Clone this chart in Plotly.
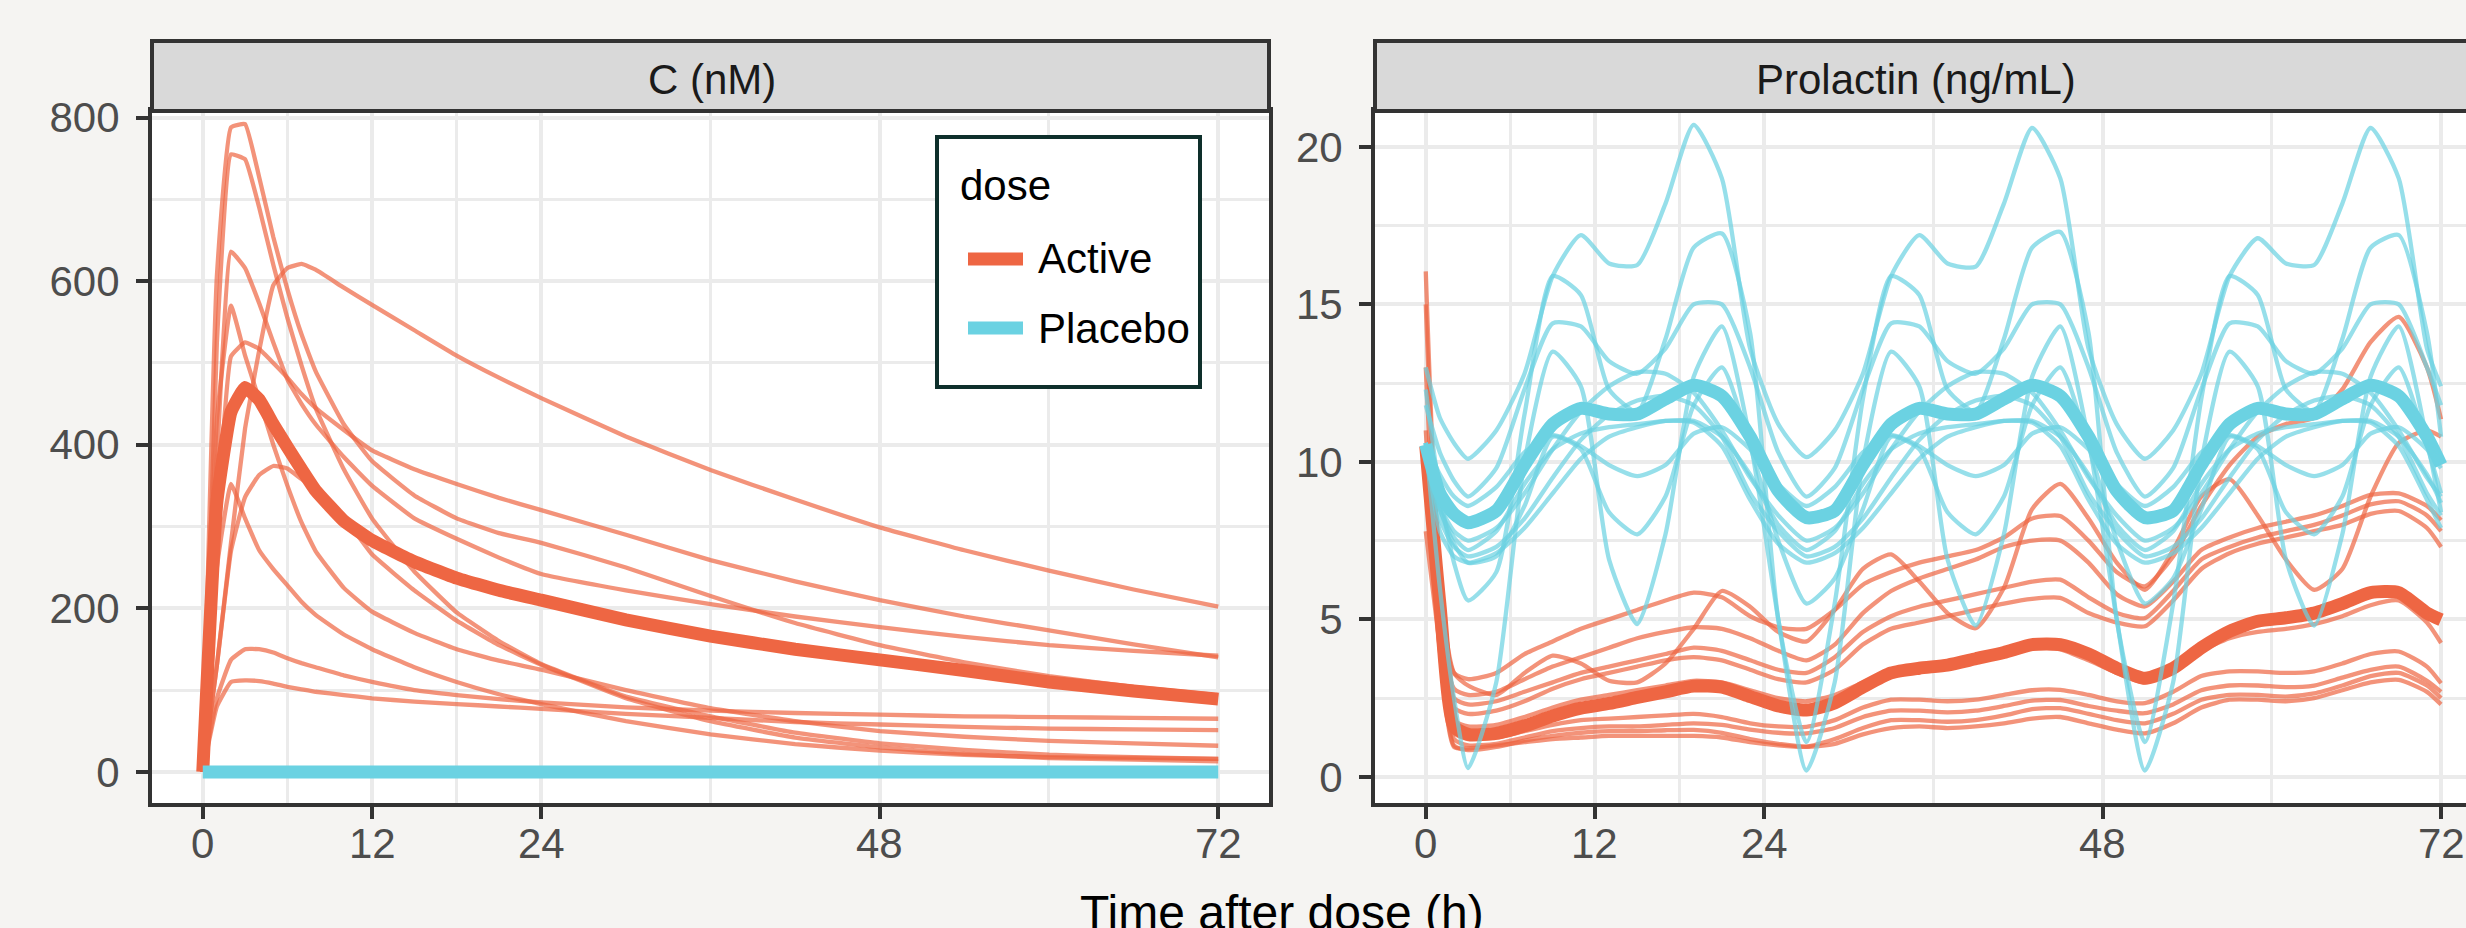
import plotly.graph_objects as go

# ---------------- data ----------------
# Concentration panel: time grid (h)
TC = [0, 1, 2, 3, 4, 5, 6, 7, 8, 10, 12, 15, 18, 21, 24, 30, 36, 42, 48, 54, 60, 66, 72]
# Active individuals, C (nM)
c_a1 = [0, 130, 280, 420, 515, 595, 616, 621, 614, 592, 571, 540, 509, 482, 457, 410, 369, 333, 299, 271, 246, 223, 202]
c_a2 = [0, 300, 508, 525, 517, 500, 482, 462, 445, 418, 393, 370, 352, 335, 320, 290, 259, 233, 210, 190, 173, 156, 140]
c_a3 = [0, 380, 636, 616, 573, 525, 480, 450, 425, 385, 350, 310, 285, 262, 242, 222, 205, 190, 177, 165, 155, 148, 142]
c_a4 = [0, 606, 788, 792, 727, 654, 590, 535, 490, 425, 380, 338, 310, 292, 280, 250, 215, 182, 155, 134, 117, 104, 94]
c_a5 = [0, 525, 755, 749, 690, 620, 555, 497, 445, 370, 310, 245, 195, 160, 132, 92, 68, 48, 35, 27, 21, 18, 16]
c_a6 = [0, 430, 570, 509, 455, 400, 350, 305, 270, 225, 196, 170, 150, 136, 125, 100, 78, 62, 50, 43, 38, 35, 32]
c_a7 = [0, 130, 270, 336, 363, 374, 371, 358, 346, 312, 266, 222, 185, 155, 131, 90, 62, 42, 30, 22, 17, 15, 13]
c_a8 = [0, 250, 352, 310, 271, 248, 228, 208, 192, 168, 150, 128, 110, 95, 83, 62, 46, 34, 26, 21, 18, 17, 16]
c_a9 = [0, 90, 137, 150, 150, 146, 139, 133, 128, 118, 110, 100, 94, 89, 85, 79, 75, 72, 70, 68, 67, 66, 65]
c_a10 = [0, 80, 110, 112, 111, 108, 104, 101, 98, 94, 90, 86, 83, 80, 77, 71, 66, 61, 58, 55, 53, 52, 51]
# Typical (thick) lines, C
c_active_typ = [0, 330, 440, 470, 455, 425, 397, 370, 344, 307, 283, 257, 237, 222, 210, 186, 166, 150, 137, 124, 110, 99, 89]
c_placebo_typ = [0, 0, 0, 0, 0, 0, 0, 0, 0, 0, 0, 0, 0, 0, 0, 0, 0, 0, 0, 0, 0, 0, 0]

# Prolactin panel: time grid (h)
TP = [0, 1, 2, 3, 5, 7, 9, 11, 13, 15, 17, 19, 21, 23,
      25, 27, 29, 31, 33, 35, 37, 39, 41, 43, 45, 47,
      49, 51, 53, 55, 57, 59, 61, 63, 65, 67, 69, 71, 72]
# Active individuals, prolactin (ng/mL)
p_a1 = [16.05, 6.0, 3.3, 2.9, 2.6, 3.3, 3.85, 3.6, 3.05, 3.0, 3.6, 4.7, 5.9, 5.4,
        4.6, 4.3, 5.3, 6.6, 7.06, 6.2, 5.2, 4.72, 6.0, 8.5, 9.3, 8.2,
        6.8, 5.94, 7.2, 8.9, 9.45, 8.3, 6.9, 5.94, 6.6, 8.9, 10.6, 11.0, 10.8]
p_a2 = [15.0, 5.8, 3.3, 3.1, 3.3, 3.9, 4.3, 4.7, 5.0, 5.3, 5.6, 5.85, 5.7, 5.1,
        4.75, 4.7, 5.3, 6.1, 6.5, 6.8, 7.0, 7.2, 7.6, 8.2, 8.28, 7.5,
        6.5, 6.05, 7.0, 8.6, 9.9, 10.8, 11.2, 11.4, 12.3, 13.8, 14.6, 13.0, 11.35]
p_a3 = [13.0, 5.2, 2.8, 2.6, 2.7, 3.1, 3.5, 3.8, 4.1, 4.4, 4.6, 4.75, 4.7, 4.4,
        4.0, 3.7, 4.2, 5.2, 5.9, 6.3, 6.6, 6.9, 7.3, 7.5, 7.5, 6.8,
        5.8, 5.41, 6.2, 7.2, 7.6, 7.9, 8.1, 8.3, 8.6, 8.95, 9.0, 8.6, 8.15]
p_a4 = [11.0, 5.0, 2.5, 2.3, 2.4, 2.7, 3.0, 3.3, 3.5, 3.7, 3.9, 4.1, 4.0, 3.7,
        3.4, 3.3, 3.8, 4.6, 5.1, 5.4, 5.6, 5.8, 6.0, 6.2, 6.26, 5.7,
        5.2, 5.04, 5.9, 6.9, 7.3, 7.6, 7.8, 8.0, 8.3, 8.65, 8.75, 8.3, 7.8]
p_a5 = [10.5, 4.9, 2.2, 2.0, 2.1, 2.4, 2.8, 3.1, 3.3, 3.5, 3.7, 3.8, 3.7, 3.4,
        3.1, 3.0, 3.4, 4.2, 4.7, 4.9, 5.1, 5.3, 5.5, 5.65, 5.68, 5.2,
        4.9, 4.78, 5.6, 6.6, 7.1, 7.4, 7.6, 7.8, 8.0, 8.35, 8.44, 7.9, 7.3]
p_a6 = [10.5, 4.7, 1.8, 1.6, 1.65, 1.9, 2.2, 2.45, 2.6, 2.75, 2.9, 3.05, 3.0, 2.75,
        2.5, 2.4, 2.6, 3.0, 3.35, 3.5, 3.6, 3.8, 3.95, 4.1, 4.05, 3.7,
        3.3, 3.0, 3.4, 4.0, 4.4, 4.6, 4.7, 4.85, 5.1, 5.45, 5.6, 4.9, 4.25]
p_a7 = [10.5, 4.5, 1.4, 1.2, 1.25, 1.45, 1.65, 1.8, 1.85, 1.9, 1.95, 2.0, 1.9, 1.7,
        1.6, 1.59, 1.8, 2.2, 2.45, 2.45, 2.4, 2.45, 2.6, 2.75, 2.76, 2.6,
        2.4, 2.34, 2.7, 3.2, 3.35, 3.35, 3.3, 3.35, 3.6, 3.9, 3.98, 3.5, 2.97]
p_a8 = [10.2, 4.3, 1.2, 1.0, 1.05, 1.25, 1.45, 1.55, 1.6, 1.6, 1.65, 1.7, 1.65, 1.5,
        1.4, 1.38, 1.55, 1.9, 2.1, 2.1, 2.05, 2.1, 2.25, 2.42, 2.44, 2.25,
        2.1, 2.02, 2.3, 2.75, 2.9, 2.9, 2.85, 2.9, 3.15, 3.4, 3.5, 3.05, 2.7]
p_a9 = [7.8, 4.1, 1.0, 0.85, 0.95, 1.15, 1.3, 1.4, 1.45, 1.45, 1.48, 1.49, 1.4, 1.2,
        1.05, 0.96, 1.2, 1.55, 1.8, 1.8, 1.75, 1.8, 1.95, 2.15, 2.18, 2.0,
        1.8, 1.7, 2.0, 2.45, 2.6, 2.6, 2.55, 2.65, 2.9, 3.2, 3.3, 2.9, 2.5]
p_a10 = [10.5, 4.0, 0.95, 0.9, 1.0, 1.1, 1.2, 1.25, 1.3, 1.3, 1.3, 1.3, 1.25, 1.1,
         1.0, 0.95, 1.05, 1.35, 1.55, 1.6, 1.55, 1.6, 1.7, 1.85, 1.9, 1.7,
         1.5, 1.38, 1.7, 2.2, 2.45, 2.45, 2.4, 2.5, 2.75, 3.0, 3.08, 2.7, 2.3]
# Placebo individuals, prolactin (ng/mL)
p_p1 = [13.0, 11.4, 10.6, 10.1, 11.0, 12.8, 15.9, 17.2, 16.3, 16.25, 18.2, 20.7, 19.0, 13.6,
        11.2, 10.15, 11.0, 12.8, 15.9, 17.2, 16.3, 16.2, 18.2, 20.6, 19.0, 13.6,
        11.2, 10.1, 11.0, 12.8, 15.9, 17.1, 16.3, 16.25, 18.2, 20.6, 19.0, 13.6, 12.4]
p_p2 = [12.3, 9.0, 6.8, 5.6, 6.5, 11.5, 15.9, 15.3, 12.3, 11.6, 13.9, 16.8, 17.25, 14.1,
        5.0, 1.1, 5.5, 12.0, 15.9, 15.3, 12.3, 11.6, 13.9, 16.8, 17.3, 14.1,
        5.0, 1.1, 5.5, 12.0, 15.9, 15.3, 12.3, 11.6, 13.9, 16.8, 17.2, 14.1, 10.8]
p_p3 = [11.8, 10.3, 9.4, 8.9, 9.8, 12.3, 14.4, 14.3, 13.2, 12.8, 13.6, 15.0, 15.0, 13.0,
        10.3, 8.9, 9.8, 12.3, 14.4, 14.3, 13.2, 12.8, 13.6, 15.0, 15.0, 13.0,
        10.3, 8.9, 9.8, 12.3, 14.4, 14.3, 13.2, 12.8, 13.6, 15.0, 15.0, 13.0, 11.8]
p_p4 = [10.6, 6.0, 2.5, 0.28, 3.0, 10.0, 13.5, 12.4, 6.9, 4.85, 7.7, 12.7, 14.3, 10.7,
        5.0, 0.2, 3.0, 10.0, 13.5, 12.4, 6.9, 4.8, 7.7, 12.7, 14.3, 10.7,
        5.0, 0.2, 3.0, 10.0, 13.5, 12.4, 6.9, 4.8, 7.7, 12.7, 14.3, 10.7, 8.4]
p_p5 = [10.6, 8.5, 7.4, 6.8, 7.0, 8.6, 10.8, 10.4, 8.4, 7.7, 8.9, 11.8, 13.0, 10.5,
        7.5, 5.5, 6.3, 8.5, 10.8, 10.4, 8.4, 7.7, 8.9, 11.8, 13.0, 10.5,
        7.5, 5.5, 6.3, 8.5, 10.8, 10.4, 8.4, 7.7, 8.9, 11.8, 13.0, 10.5, 9.0]
p_p6 = [10.6, 9.6, 8.9, 8.6, 9.2, 10.3, 10.85, 10.5, 9.9, 9.55, 9.9, 10.9, 11.1, 10.4,
        9.3, 8.6, 9.2, 10.3, 10.85, 10.5, 9.9, 9.55, 9.9, 10.9, 11.1, 10.4,
        9.3, 8.6, 9.2, 10.3, 10.85, 10.5, 9.9, 9.55, 9.9, 10.9, 11.1, 10.4, 9.8]
p_p7 = [10.6, 8.6, 7.8, 7.5, 7.9, 9.0, 10.4, 11.6, 12.4, 12.85, 12.8, 12.2, 11.0, 9.5,
        8.3, 7.5, 7.9, 9.0, 10.4, 11.6, 12.4, 12.85, 12.8, 12.2, 11.0, 9.5,
        8.3, 7.5, 7.9, 9.0, 10.4, 11.6, 12.4, 12.85, 12.8, 12.2, 11.0, 9.5, 8.9]
p_p8 = [10.6, 8.2, 7.3, 7.0, 7.3, 8.2, 9.5, 10.7, 11.5, 11.95, 12.1, 11.8, 10.8, 9.0,
        7.8, 7.0, 7.3, 8.2, 9.5, 10.7, 11.5, 11.95, 12.1, 11.8, 10.8, 9.0,
        7.8, 7.0, 7.3, 8.2, 9.5, 10.7, 11.5, 11.95, 12.1, 11.8, 10.8, 9.0, 8.3]
p_p9 = [10.6, 7.8, 7.0, 6.8, 7.1, 7.9, 9.0, 10.1, 10.8, 11.1, 11.3, 11.25, 10.5, 8.8,
        7.4, 6.8, 7.1, 7.9, 9.0, 10.1, 10.8, 11.1, 11.3, 11.25, 10.5, 8.8,
        7.4, 6.8, 7.1, 7.9, 9.0, 10.1, 10.8, 11.1, 11.3, 11.25, 10.5, 8.8, 7.9]
p_p10 = [10.6, 8.5, 7.6, 7.2, 7.8, 9.3, 10.4, 10.9, 11.1, 11.2, 11.3, 11.3, 10.8, 9.6,
         8.0, 7.2, 7.8, 9.3, 10.4, 10.9, 11.1, 11.2, 11.3, 11.3, 10.8, 9.6,
         8.0, 7.2, 7.8, 9.3, 10.4, 10.9, 11.1, 11.2, 11.3, 11.3, 10.8, 9.6, 8.7]
# Typical (thick) lines, prolactin
p_active_typ = [10.5, 5.5, 1.6, 1.35, 1.38, 1.62, 1.93, 2.18, 2.33, 2.52, 2.7, 2.88, 2.85, 2.55,
                2.25, 2.12, 2.35, 2.85, 3.3, 3.45, 3.55, 3.75, 3.95, 4.2, 4.2, 3.9,
                3.45, 3.13, 3.45, 4.1, 4.62, 4.94, 5.05, 5.2, 5.5, 5.85, 5.85, 5.2, 4.99]
p_placebo_typ = [10.55, 9.0, 8.35, 8.07, 8.45, 9.9, 11.2, 11.7, 11.52, 11.52, 12.0, 12.43, 12.09, 10.8,
                 9.08, 8.23, 8.45, 9.9, 11.2, 11.7, 11.52, 11.52, 12.0, 12.43, 12.09, 10.8,
                 9.08, 8.23, 8.45, 9.9, 11.2, 11.7, 11.52, 11.52, 12.0, 12.43, 12.09, 10.8, 9.9]

panel_titles = ["C (nM)", "Prolactin (ng/mL)"]
x_ticks = [0, 12, 24, 48, 72]
x_minor = [6, 18, 36, 60]
c_ticks = [0, 200, 400, 600, 800]
c_minor = [100, 300, 500, 700]
p_ticks = [0, 5, 10, 15, 20]
p_minor = [2.5, 7.5, 12.5, 17.5]
dose_labels = ["Active", "Placebo"]
x_title = "Time after dose (h)"

# ---------------- style ----------------
W, H = 2466, 928
ORANGE = "#EE6643"
CYAN = "#6BD2E2"
BG = "#F5F4F2"
GRID = "#EBEBEB"
DARK = "#333333"
FONT = "Liberation Sans, Arial, Helvetica, sans-serif"
THIN = 4.3
THICK = 13
ALPHA = 0.7

def px(x):
    return x / W

def py(y):
    return 1 - y / H

fig = go.Figure()

c_active = [c_a1, c_a2, c_a3, c_a4, c_a5, c_a6, c_a7, c_a8, c_a9, c_a10]
p_active = [p_a1, p_a2, p_a3, p_a4, p_a5, p_a6, p_a7, p_a8, p_a9, p_a10]
p_placebo = [p_p1, p_p2, p_p3, p_p4, p_p5, p_p6, p_p7, p_p8, p_p9, p_p10]

def add_line(x, y, color, width, opacity, xa, ya, smooth=0.0):
    line = dict(color=color, width=width)
    if smooth > 0:
        line.update(shape="spline", smoothing=smooth)
    fig.add_trace(go.Scatter(x=x, y=y, mode="lines", line=line,
                             opacity=opacity, showlegend=False,
                             hoverinfo="skip", xaxis=xa, yaxis=ya))

# left panel
for s in c_active:
    add_line(TC, s, ORANGE, THIN, ALPHA, "x", "y", 0.35)
add_line(TC, c_active_typ, ORANGE, THICK, 1, "x", "y", 0.35)
add_line(TC, c_placebo_typ, CYAN, THICK, 1, "x", "y")

# right panel
for s in p_active:
    add_line(TP, s, ORANGE, THIN, ALPHA, "x2", "y2", 0.6)
add_line(TP, p_active_typ, ORANGE, THICK, 1, "x2", "y2", 0.6)
for s in p_placebo:
    add_line(TP, s, CYAN, THIN, ALPHA, "x2", "y2", 0.6)
add_line(TP, p_placebo_typ, CYAN, THICK, 1, "x2", "y2", 0.6)

PLOT_TOP, PLOT_BOT = 111, 803
STRIP_TOP = 41
L_X0, L_X1 = 152, 1269
R_X0, R_X1 = 1375, 2492

tickfont = dict(family=FONT, size=42, color="#4D4D4D")

def xaxis_cfg(domain, rng, mirror):
    return dict(domain=domain, range=rng, tickvals=x_ticks, showticklabels=False,
                ticks="outside", ticklen=12, tickwidth=4, tickcolor=DARK,
                showline=True, linewidth=4, linecolor=DARK, mirror=mirror,
                showgrid=True, gridcolor=GRID, gridwidth=4, zeroline=False,
                minor=dict(tickvals=x_minor, showgrid=True, gridcolor=GRID, gridwidth=2.5, ticks=""),
                automargin=False, fixedrange=True)

def yaxis_cfg(domain, rng, tv, mv, mirror, anchor):
    return dict(domain=domain, range=rng, tickvals=tv, ticktext=[str(v) for v in tv],
                ticks="outside", ticklen=12, tickwidth=4, tickcolor=DARK,
                showline=True, linewidth=4, linecolor=DARK, mirror=mirror,
                showgrid=True, gridcolor=GRID, gridwidth=4, zeroline=False,
                minor=dict(tickvals=mv, showgrid=True, gridcolor=GRID, gridwidth=2.5, ticks=""),
                tickfont=tickfont, anchor=anchor, ticklabelstandoff=8,
                automargin=False, fixedrange=True)

ydom = [py(PLOT_BOT), py(PLOT_TOP)]
fig.update_layout(
    width=W, height=H, autosize=False,
    margin=dict(l=0, r=0, t=0, b=0, pad=0, autoexpand=False),
    paper_bgcolor=BG, plot_bgcolor="white",
    showlegend=False,
    xaxis=xaxis_cfg([px(L_X0), px(L_X1)], [-3.6, 75.6], True),
    yaxis=yaxis_cfg(ydom, [-38, 808], c_ticks, c_minor, True, "x"),
    xaxis2=xaxis_cfg([px(R_X0), 1.0], [-3.6, 73.77], True),
    yaxis2=yaxis_cfg(ydom, [-0.83, 21.14], p_ticks, p_minor, False, "x2"),
)
fig.layout.xaxis2.anchor = "y2"

shapes = []
annotations = []
# strips
for (x0, x1, title, cx) in [(L_X0, L_X1, panel_titles[0], 712), (R_X0, R_X1 + 30, panel_titles[1], 1916)]:
    shapes.append(dict(type="rect", xref="paper", yref="paper",
                       x0=px(x0), x1=px(x1), y0=py(PLOT_TOP), y1=py(STRIP_TOP),
                       fillcolor="#D9D9D9", line=dict(color=DARK, width=4), layer="above"))
    annotations.append(dict(text=title, xref="paper", yref="paper", x=px(cx), y=py(79),
                            xanchor="center", yanchor="middle", showarrow=False,
                            font=dict(family=FONT, size=42, color="#1A1A1A")))

# x tick labels
for xref in ["x", "x2"]:
    for v in x_ticks:
        annotations.append(dict(text=str(v), xref=xref, yref="paper", x=v, y=py(843),
                                xanchor="center", yanchor="middle", showarrow=False,
                                font=tickfont))

# legend (drawn manually)
shapes.append(dict(type="rect", xref="paper", yref="paper",
                   x0=px(937), x1=px(1200), y0=py(387), y1=py(137),
                   fillcolor="white", line=dict(color="#0E2F2B", width=4), layer="above"))
annotations.append(dict(text="dose", xref="paper", yref="paper", x=px(958), y=py(185),
                        xanchor="left", yanchor="middle", showarrow=False,
                        font=dict(family=FONT, size=42, color="black")))
for lab, col, yy in [(dose_labels[0], ORANGE, 259), (dose_labels[1], CYAN, 328)]:
    shapes.append(dict(type="line", xref="paper", yref="paper",
                       x0=px(968), x1=px(1023), y0=py(yy), y1=py(yy),
                       line=dict(color=col, width=13), layer="above"))
    annotations.append(dict(text=lab, xref="paper", yref="paper", x=px(1036), y=py(yy),
                            xanchor="left", yanchor="middle", showarrow=False,
                            font=dict(family=FONT, size=42, color="black")))

# x axis title
annotations.append(dict(text=x_title, xref="paper", yref="paper",
                        x=px(1282), y=py(912), xanchor="center", yanchor="middle",
                        showarrow=False, font=dict(family=FONT, size=48, color="black")))

fig.update_layout(shapes=shapes, annotations=annotations)
fig.write_html("out.html",
               config={"displayModeBar": False, "responsive": False},
               post_script="document.documentElement.style.margin='0';"
                           "document.body.style.margin='0';"
                           "document.body.style.overflow='hidden';")
